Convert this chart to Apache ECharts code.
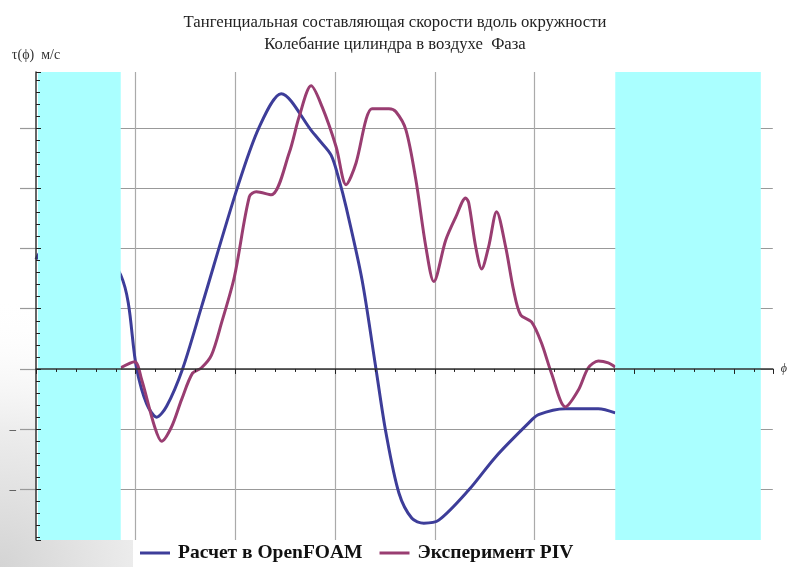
<!DOCTYPE html>
<html>
<head>
<meta charset="utf-8">
<script src="https://cdn.jsdelivr.net/npm/echarts@6/dist/echarts.min.js"></script>
<style>
  html, body { margin: 0; padding: 0; background: #fff; }
  #phaseChart { width: 790px; height: 567px; }
</style>
</head>
<body>
<div id="phaseChart"></div>
<script>
// Расчет в OpenFOAM: фаза (x) и скорость (y)
const phiCalc = [0, 0.05, 0.4, 0.85, 1.01, 1.11, 1.21, 1.31, 1.47, 1.66, 2.02, 2.24, 2.46, 2.77, 2.84, 2.96, 3.04, 3.11, 3.27, 3.41, 3.51, 3.64, 3.77, 3.89, 4.04, 4.34, 4.61, 4.94, 5.04, 5.31, 5.64, 5.81];
const tauCalc = [1.82, 1.95, 2.3, 1.56, 0, -0.58, -0.8, -0.62, 0, 1.03, 3.01, 4.02, 4.57, 3.94, 3.8, 3.55, 3.14, 2.69, 1.48, 0, -1.06, -2.06, -2.48, -2.56, -2.51, -2.01, -1.46, -0.9, -0.76, -0.66, -0.66, -0.73];

// Эксперимент PIV
const phiPiv = [0.85, 0.99, 1.06, 1.19, 1.26, 1.36, 1.46, 1.57, 1.66, 1.76, 1.86, 1.99, 2.14, 2.21, 2.36, 2.54, 2.64, 2.76, 2.87, 3.01, 3.11, 3.21, 3.31, 3.37, 3.54, 3.61, 3.71, 3.81, 3.91, 3.99, 4.11, 4.21, 4.31, 4.34, 4.41, 4.47, 4.54, 4.62, 4.71, 4.79, 4.86, 4.97, 5.07, 5.17, 5.31, 5.44, 5.54, 5.64, 5.74, 5.81];
const tauPiv = [0.02, 0.12, -0.18, -0.96, -1.2, -0.96, -0.51, -0.07, 0.02, 0.23, 0.76, 1.53, 2.86, 2.94, 2.89, 3.59, 4.19, 4.7, 4.35, 3.69, 3.06, 3.42, 4.14, 4.32, 4.32, 4.27, 3.97, 3.14, 2.03, 1.45, 2.14, 2.52, 2.84, 2.76, 2.03, 1.66, 2.03, 2.61, 2.03, 1.31, 0.9, 0.78, 0.43, -0.07, -0.63, -0.35, 0.02, 0.13, 0.1, 0.03];

// закрашенные зоны по фазе
const bandStart = [0.02, 5.81];
const bandEnd = [0.85, 7.27];

const phiMin = 0, phiMax = 7.39;
const tauMin = -2.84, tauMax = 4.93;

const serif = '"Liberation Serif", "DejaVu Serif", serif';
const blue = '#3d3d99';
const pink = '#993d71';

function pairs(xs, ys) {
  return xs.map((x, i) => [x, ys[i]]);
}

let myChart = echarts.init(document.getElementById('phaseChart'));
let option = {
  backgroundColor: '#fff',
  animation: false,
  graphic: [
    {
      // серая тень слайда в левом нижнем углу
      type: 'rect',
      z: -10,
      silent: true,
      shape: { x: 0, y: 300, width: 300, height: 267 },
      style: {
        fill: new echarts.graphic.RadialGradient(0, 567, 270, [
          { offset: 0, color: '#d4d4d4' },
          { offset: 0.5, color: '#ececec' },
          { offset: 1, color: 'rgba(255,255,255,0)' }
        ], true)
      }
    }
  ],
  title: {
    text: 'Тангенциальная составляющая скорости вдоль окружности\nКолебание цилиндра в воздухе  Фаза',
    left: 'center',
    top: 7,
    textStyle: {
      fontFamily: serif,
      fontWeight: 'normal',
      fontSize: 16.7,
      lineHeight: 22,
      color: '#222'
    }
  },
  legend: {
    data: ['Расчет в OpenFOAM', 'Эксперимент PIV'],
    left: 133,
    top: 540,
    padding: [3, 20, 6, 7],
    backgroundColor: '#fff',
    icon: 'rect',
    itemWidth: 30,
    itemHeight: 3,
    itemGap: 17,
    textStyle: {
      fontFamily: serif,
      fontWeight: 'bold',
      fontSize: 19.5,
      color: '#111',
      padding: [0, 0, 0, 3]
    }
  },
  grid: {
    left: 36,
    right: 15,
    top: 72,
    bottom: 27,
    show: true,
    backgroundColor: '#fff',
    borderWidth: 0
  },
  xAxis: [
    {
      // сетка
      type: 'value',
      min: phiMin,
      max: phiMax,
      splitNumber: 7,
      axisLine: { show: false },
      axisTick: { show: false },
      axisLabel: { show: false },
      splitLine: {
        show: true,
        showMinLine: false,
        showMaxLine: false,
        lineStyle: { color: '#aaa', width: 1.2 }
      }
    },
    {
      // ось на нуле
      type: 'value',
      min: phiMin,
      max: phiMax,
      splitNumber: 7,
      z: 5,
      name: 'ϕ',
      nameLocation: 'end',
      nameGap: 8,
      nameTextStyle: { fontFamily: serif, fontStyle: 'italic', fontSize: 12, color: '#333' },
      axisLine: { show: true, onZero: true, onZeroAxisIndex: 0, lineStyle: { color: '#333', width: 1.5 } },
      axisTick: { show: true, inside: true, length: 5, lineStyle: { color: '#222' } },
      minorTick: { show: true, splitNumber: 5, length: 3, lineStyle: { color: '#222' } },
      axisLabel: { show: false },
      splitLine: { show: false }
    }
  ],
  yAxis: [
    {
      type: 'value',
      min: tauMin,
      max: tauMax,
      splitNumber: 8,
      axisLine: { show: false },
      axisTick: { show: true, inside: false, length: 16, lineStyle: { color: '#999', width: 1.2 } },
      axisLabel: {
        showMinLabel: false,
        showMaxLabel: false,
        margin: 20,
        fontFamily: serif,
        fontSize: 13,
        color: '#111',
        formatter: function (v) {
          return (v < 0 && Math.abs(v - Math.round(v)) < 1e-6) ? '–' : '';
        }
      },
      splitLine: {
        show: true,
        showMinLine: false,
        showMaxLine: false,
        lineStyle: { color: '#999', width: 1.2 }
      }
    },
    {
      type: 'value',
      min: tauMin,
      max: tauMax,
      splitNumber: 8,
      position: 'left',
      z: 5,
      name: 'τ(ϕ)  м/с',
      nameLocation: 'end',
      nameGap: 10,
      nameTextStyle: { fontFamily: serif, fontSize: 14, color: '#333' },
      axisLine: { show: true, onZero: false, lineStyle: { color: '#333', width: 1.5 } },
      axisTick: { show: true, inside: true, length: 5, lineStyle: { color: '#222' } },
      minorTick: { show: true, splitNumber: 5, length: 4, lineStyle: { color: '#222' } },
      axisLabel: { show: false },
      splitLine: { show: false }
    }
  ],
  series: [
    {
      name: 'Расчет в OpenFOAM',
      type: 'line',
      xAxisIndex: 0,
      yAxisIndex: 0,
      data: pairs(phiCalc, tauCalc),
      smooth: 0.3,
      symbol: 'none',
      lineStyle: { color: blue, width: 3 },
      itemStyle: { color: blue },
      z: 2
    },
    {
      name: 'Эксперимент PIV',
      type: 'line',
      xAxisIndex: 0,
      yAxisIndex: 0,
      data: pairs(phiPiv, tauPiv),
      smooth: 0.3,
      symbol: 'none',
      lineStyle: { color: pink, width: 3 },
      itemStyle: { color: pink },
      z: 2
    },
    {
      name: 'bands',
      type: 'line',
      xAxisIndex: 0,
      yAxisIndex: 0,
      data: [],
      z: 3,
      silent: true,
      markArea: {
        silent: true,
        z: 3,
        itemStyle: { color: '#aaffff', opacity: 1 },
        data: bandStart.map((s, i) => [{ xAxis: s }, { xAxis: bandEnd[i] }])
      }
    }
  ]
};
myChart.setOption(option);
</script>
</body>
</html>
